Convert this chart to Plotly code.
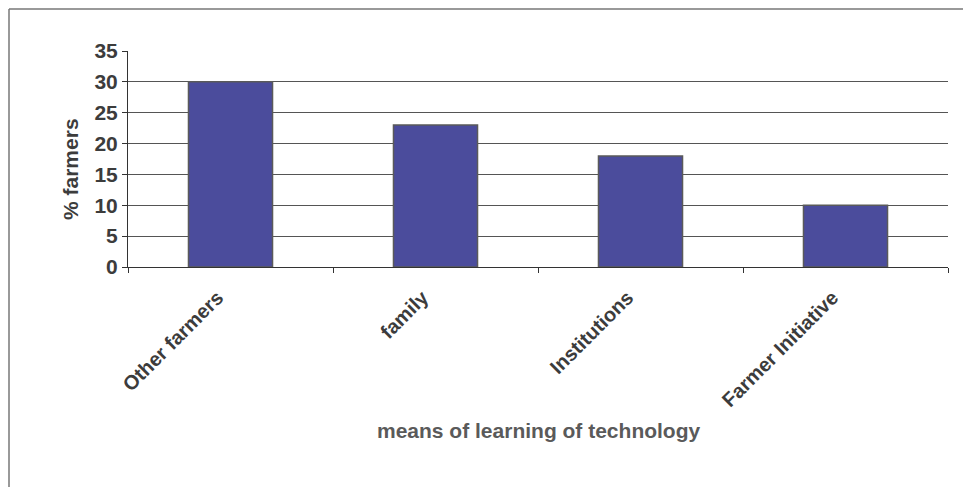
import plotly.graph_objects as go

# Survey data: how farmers learned the technology
categories = ["Other farmers", "family", "Institutions", "Farmer Initiative"]
percent_farmers = [30, 23, 18, 10]
y_ticks = [0, 5, 10, 15, 20, 25, 30, 35]

W, H = 963, 487
L, R, T, B = 128, 15, 51, 220
plot_w = W - L - R
plot_h = H - T - B

FONT = "Arial, Liberation Sans, sans-serif"

fig = go.Figure(
    go.Bar(
        x=categories,
        y=percent_farmers,
        width=0.41,
        marker=dict(color="#4B4C9C", line=dict(color="#5a5a5a", width=1.5)),
    )
)


def px_x(px):
    return (px - L) / plot_w


def px_y(py):
    return (H - B - py) / plot_h


fig.update_layout(
    width=W,
    height=H,
    margin=dict(l=L, r=R, t=T, b=B),
    paper_bgcolor="white",
    plot_bgcolor="white",
    showlegend=False,
    font=dict(family=FONT, color="#3c3c3c"),
    xaxis=dict(
        type="category",
        range=[-0.5, 3.5],
        showgrid=False,
        showline=True,
        linecolor="#333",
        linewidth=1,
        ticks="outside",
        tickson="boundaries",
        ticklen=5,
        tickcolor="#333",
        tickangle=-45,
        ticklabelstandoff=10,
        ticklabelshift=-13,
        tickfont=dict(size=20, family=FONT, color="#3c3c3c", weight="bold"),
    ),
    yaxis=dict(
        range=[0, 35],
        tickvals=y_ticks,
        showgrid=True,
        gridcolor="#555555",
        gridwidth=1,
        zeroline=False,
        showline=True,
        linecolor="#333",
        linewidth=1,
        ticks="outside",
        ticklen=5,
        tickcolor="#333",
        tickfont=dict(size=21, family=FONT, color="#3c3c3c", weight="bold"),
    ),
    annotations=[
        dict(
            text="% farmers",
            xref="paper", yref="paper",
            x=px_x(70), y=px_y(169),
            textangle=-90, showarrow=False,
            xanchor="center", yanchor="middle",
            font=dict(size=21, family=FONT, color="#3c3c3c", weight="bold"),
        ),
        dict(
            text="means of learning of technology",
            xref="paper", yref="paper",
            x=px_x(539), y=px_y(430),
            showarrow=False,
            xanchor="center", yanchor="middle",
            font=dict(size=21, family=FONT, color="#5a5a5a", weight="bold"),
        ),
    ],
    shapes=[
        # outer chart frame (top and left edges)
        dict(type="line", xref="paper", yref="paper",
             x0=px_x(9), y0=px_y(9), x1=px_x(963), y1=px_y(9),
             line=dict(color="#777", width=1.5)),
        dict(type="line", xref="paper", yref="paper",
             x0=px_x(9), y0=px_y(9), x1=px_x(9), y1=px_y(487),
             line=dict(color="#777", width=1.5)),
    ],
)

fig.write_html("out.html")
